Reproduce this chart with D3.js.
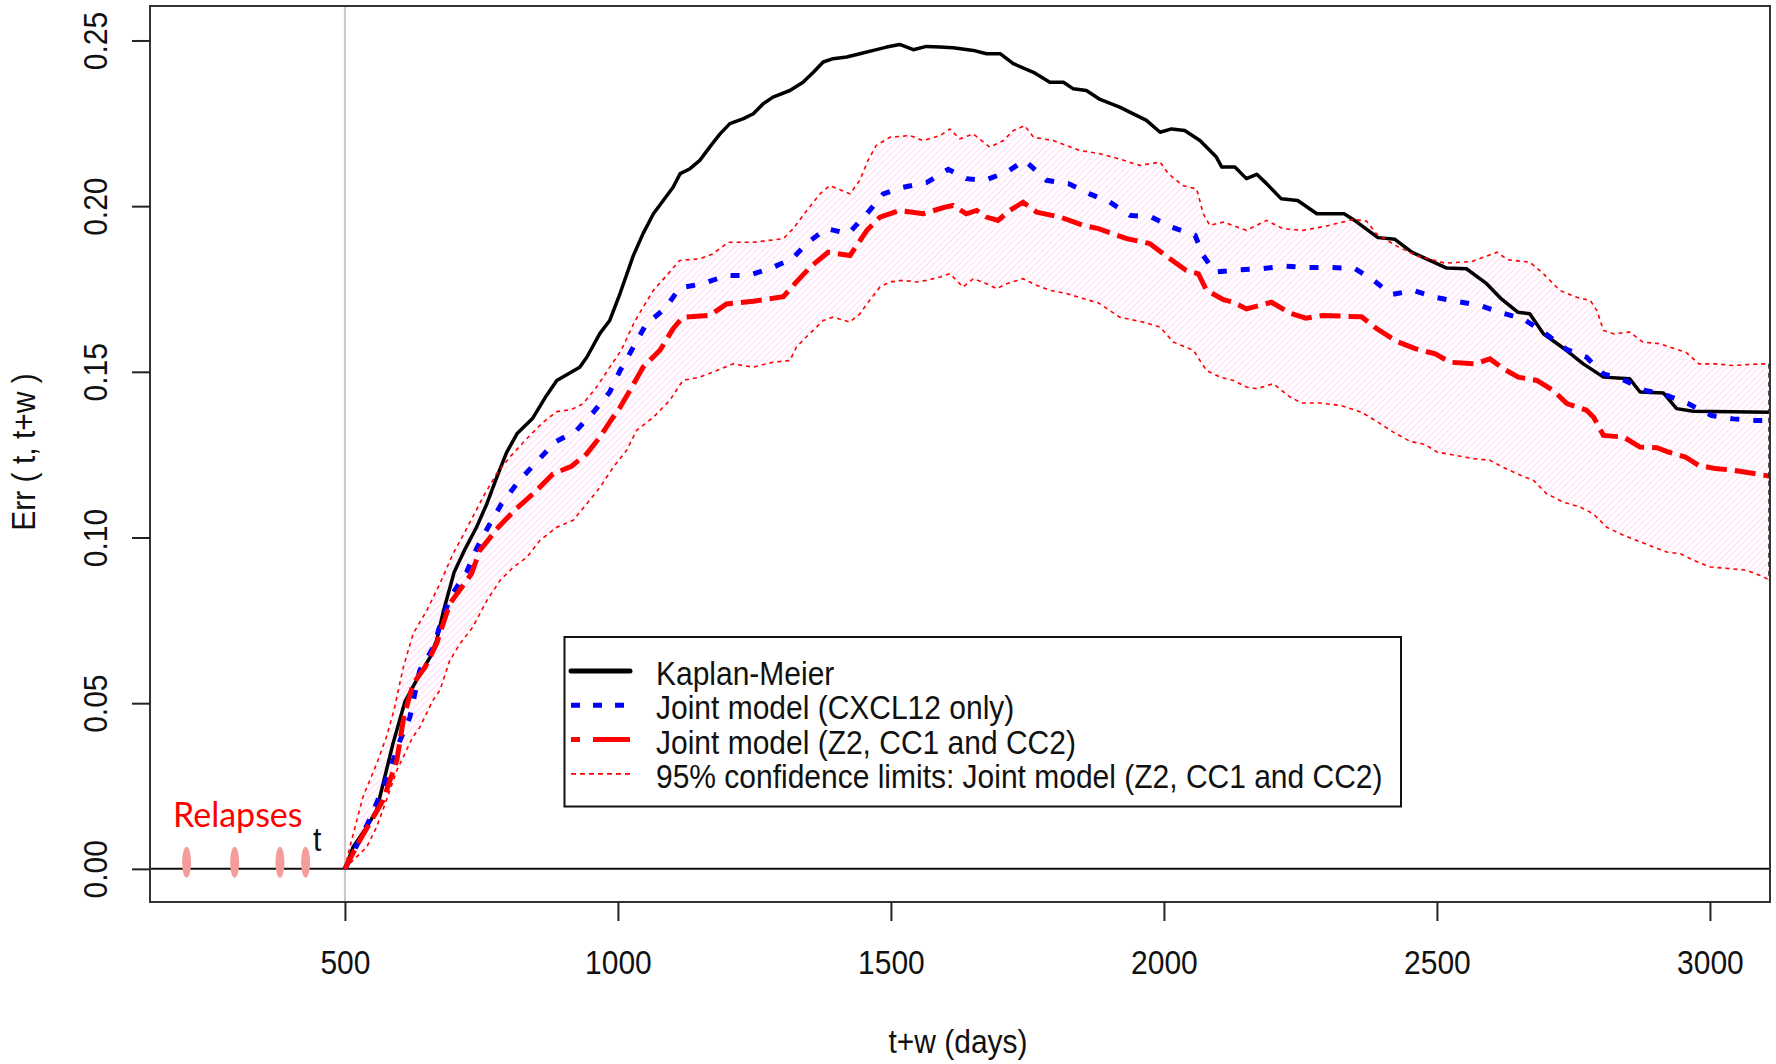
<!DOCTYPE html>
<html>
<head>
<meta charset="utf-8">
<title>Err ( t, t+w )</title>
<script src="https://cdn.jsdelivr.net/npm/d3@7"></script>
<style>
  body { margin: 0; background: #fff; }
  svg text { font-family: "Liberation Sans", Arial, sans-serif; fill: #111; }
</style>
</head>
<body>
<svg id="chart" width="1776" height="1064"></svg>
<script>
// values, [t+w (days), Err]
var kaplanMeier = [[500,0],[515,0.0066],[540,0.0126],[558,0.0177],[588,0.0378],[610,0.0505],[631,0.0569],
  [656,0.0639],[668,0.0690],[680,0.0775],[700,0.0895],[720,0.0965],[741,0.1031],[760,0.1102],[780,0.1190],
  [796,0.1256],[815,0.1313],[844,0.1360],[869,0.1428],[888,0.1474],[930,0.1514],[943,0.1544],[967,0.1616],
  [985,0.1655],[1004,0.1737],[1028,0.1850],[1046,0.1917],[1065,0.1977],[1083,0.2017],[1101,0.2057],
  [1114,0.2098],[1132,0.2113],[1150,0.2138],[1168,0.2178],[1187,0.2218],[1205,0.2249],[1230,0.2264],
  [1248,0.2279],[1266,0.2309],[1284,0.2329],[1315,0.2349],[1339,0.2374],[1358,0.2404],[1376,0.2435],
  [1394,0.2445],[1419,0.2450],[1443,0.2460],[1468,0.2470],[1492,0.2480],[1516,0.2488],[1541,0.2472],
  [1565,0.2482],[1590,0.2480],[1614,0.2478],[1651,0.2470],[1675,0.2460],[1700,0.2460],[1724,0.2430],
  [1761,0.2404],[1791,0.2374],[1816,0.2374],[1834,0.2354],[1858,0.2349],[1883,0.2322],[1919,0.2299],
  [1968,0.2259],[1993,0.2223],[2014,0.2233],[2038,0.2228],[2066,0.2198],[2096,0.2148],[2106,0.2118],
  [2130,0.2118],[2151,0.2083],[2170,0.2096],[2188,0.2068],[2215,0.2022],[2245,0.2017],[2280,0.1977],
  [2330,0.1977],[2351,0.1955],[2392,0.1905],[2423,0.1900],[2454,0.1861],[2518,0.1813],[2554,0.1811],
  [2591,0.1766],[2618,0.1720],[2648,0.1680],[2670,0.1675],[2695,0.1615],[2737,0.1565],[2768,0.1524],
  [2805,0.1484],[2853,0.1479],[2872,0.1439],[2915,0.1436],[2939,0.1389],[2969,0.1381],[3110,0.1378]];

var jointCxcl12 = [[500,0],[546,0.0151],[564,0.0222],[582,0.0297],[601,0.0388],[619,0.0458],[637,0.0599],
  [662,0.0669],[677,0.0750],[695,0.0825],[723,0.0896],[741,0.0966],[762,0.1031],[787,0.1102],[817,0.1167],
  [851,0.1228],[885,0.1288],[924,0.1323],[955,0.1378],[985,0.1439],[1004,0.1504],[1025,0.1565],
  [1052,0.1645],[1086,0.1690],[1113,0.1753],[1156,0.1766],[1199,0.1791],[1239,0.1791],[1278,0.1811],
  [1319,0.1841],[1348,0.1891],[1382,0.1932],[1422,0.1917],[1456,0.1977],[1486,0.2037],[1522,0.2057],
  [1565,0.2071],[1605,0.2111],[1638,0.2083],[1672,0.2078],[1712,0.2103],[1745,0.2138],[1785,0.2078],
  [1825,0.2068],[1864,0.2037],[1901,0.2012],[1938,0.1972],[1977,0.1967],[2014,0.1937],[2057,0.1912],
  [2072,0.1851],[2093,0.1801],[2136,0.1808],[2179,0.1811],[2222,0.1819],[2264,0.1815],[2304,0.1815],
  [2349,0.1812],[2384,0.1776],[2417,0.1733],[2457,0.1746],[2496,0.1725],[2538,0.1712],[2580,0.1700],
  [2618,0.1678],[2658,0.1660],[2695,0.1620],[2737,0.1568],[2774,0.1544],[2805,0.1494],[2844,0.1474],
  [2881,0.1444],[2921,0.1429],[2960,0.1404],[3003,0.1368],[3043,0.1358],[3083,0.1353],[3110,0.1353]];

var jointZ2 = [[500,0],[503,0.001],[527,0.0086],[570,0.0207],[595,0.0327],[608,0.0460],[625,0.0559],
  [647,0.0609],[668,0.0680],[692,0.0800],[714,0.0850],[732,0.0891],[747,0.0961],[781,0.1031],[814,0.1087],
  [848,0.1137],[881,0.1192],[915,0.1215],[943,0.1253],[967,0.1303],[985,0.1348],[1004,0.1393],
  [1022,0.1444],[1046,0.1514],[1077,0.1565],[1101,0.1630],[1119,0.1665],[1168,0.1670],[1199,0.1705],
  [1248,0.1713],[1303,0.1727],[1324,0.1766],[1352,0.1816],[1385,0.1861],[1425,0.1851],[1456,0.1927],
  [1480,0.1967],[1516,0.1987],[1559,0.1977],[1599,0.1997],[1614,0.2002],[1638,0.1977],[1657,0.1987],
  [1675,0.1967],[1696,0.1957],[1718,0.1987],[1742,0.2012],[1767,0.1982],[1810,0.1967],[1852,0.1942],
  [1880,0.1932],[1932,0.1902],[1974,0.1887],[2011,0.1841],[2041,0.1806],[2063,0.1796],[2078,0.1746],
  [2109,0.1718],[2127,0.1710],[2151,0.1690],[2197,0.1710],[2231,0.1677],[2260,0.1662],[2290,0.1670],
  [2362,0.1666],[2390,0.1630],[2426,0.1592],[2460,0.1570],[2497,0.1554],[2524,0.1529],[2570,0.1524],
  [2597,0.1539],[2622,0.1509],[2649,0.1484],[2683,0.1474],[2713,0.1444],[2738,0.1404],[2774,0.1384],
  [2787,0.1363],[2805,0.1308],[2842,0.1303],[2872,0.1273],[2903,0.1271],[2924,0.1258],[2955,0.1243],
  [2979,0.1218],[3010,0.1208],[3043,0.1203],[3110,0.1185]];

var ciUpper = [[500,0],[509,0.0066],[533,0.0217],[558,0.0317],[576,0.0398],[590,0.0480],[607,0.0609],
  [625,0.0710],[650,0.0780],[674,0.0861],[698,0.0951],[723,0.1027],[753,0.1122],[778,0.1193],[802,0.1243],
  [833,0.1298],[863,0.1348],[888,0.1380],[915,0.1386],[936,0.1404],[961,0.1454],[985,0.1514],[1006,0.1565],
  [1030,0.1650],[1046,0.1695],[1065,0.1746],[1092,0.1796],[1113,0.1836],[1150,0.1841],[1174,0.1856],
  [1202,0.1891],[1248,0.1891],[1303,0.1902],[1321,0.1932],[1346,0.1987],[1370,0.2037],[1388,0.2062],
  [1425,0.2037],[1443,0.2078],[1458,0.2138],[1473,0.2183],[1498,0.2208],[1535,0.2213],[1559,0.2198],
  [1590,0.2213],[1608,0.2233],[1626,0.2203],[1651,0.2218],[1681,0.2178],[1706,0.2198],[1724,0.2228],
  [1745,0.2243],[1761,0.2208],[1797,0.2198],[1846,0.2168],[1883,0.2158],[1907,0.2148],[1956,0.2123],
  [1993,0.2133],[2008,0.2098],[2035,0.2062],[2060,0.2052],[2072,0.1977],[2084,0.1942],[2109,0.1952],
  [2151,0.1927],[2188,0.1957],[2218,0.1932],[2255,0.1927],[2298,0.1940],[2347,0.1960],[2371,0.1955],
  [2390,0.1915],[2426,0.1880],[2463,0.1850],[2515,0.1828],[2564,0.1833],[2610,0.1861],[2630,0.1838],
  [2670,0.1831],[2695,0.1796],[2725,0.1746],[2756,0.1725],[2781,0.1715],[2793,0.1685],[2805,0.1625],
  [2823,0.1615],[2853,0.1620],[2877,0.1590],[2907,0.1585],[2956,0.1559],[2980,0.1524],[3011,0.1524],
  [3041,0.1519],[3093,0.1524],[3110,0.1524]];

var ciLower = [[500,0],[509,0.0016],[540,0.0066],[558,0.0126],[576,0.0207],[595,0.0297],[624,0.0397],
  [637,0.0427],[661,0.0508],[674,0.0539],[692,0.0629],[711,0.0680],[734,0.0729],[760,0.0810],[784,0.0870],
  [808,0.0910],[833,0.0940],[857,0.0991],[888,0.1031],[918,0.1052],[943,0.1102],[967,0.1151],[991,0.1211],
  [1016,0.1263],[1034,0.1323],[1065,0.1363],[1095,0.1414],[1119,0.1474],[1150,0.1484],[1181,0.1504],
  [1211,0.1524],[1248,0.1514],[1284,0.1529],[1315,0.1534],[1327,0.1575],[1345,0.1605],[1376,0.1655],
  [1394,0.1665],[1425,0.1650],[1443,0.1675],[1456,0.1705],[1480,0.1756],[1498,0.1771],[1522,0.1776],
  [1547,0.1771],[1565,0.1776],[1590,0.1786],[1608,0.1796],[1632,0.1756],[1651,0.1781],[1675,0.1766],
  [1694,0.1751],[1712,0.1766],[1742,0.1781],[1767,0.1761],[1791,0.1746],[1822,0.1736],[1852,0.1721],
  [1880,0.1708],[1919,0.1665],[1962,0.1650],[1993,0.1635],[2017,0.1590],[2054,0.1565],[2066,0.1534],
  [2078,0.1504],[2103,0.1484],[2127,0.1474],[2151,0.1454],[2170,0.1449],[2200,0.1464],[2231,0.1424],
  [2252,0.1406],[2286,0.1406],[2325,0.1398],[2362,0.1378],[2390,0.1350],[2420,0.1318],[2451,0.1290],
  [2478,0.1281],[2500,0.1258],[2527,0.1250],[2567,0.1238],[2597,0.1233],[2621,0.1212],[2646,0.1193],
  [2677,0.1172],[2701,0.1132],[2731,0.1107],[2762,0.1092],[2786,0.1072],[2811,0.1031],[2836,0.1011],
  [2866,0.0991],[2897,0.0971],[2921,0.0956],[2946,0.0951],[2970,0.0931],[3001,0.0911],[3037,0.0906],
  [3067,0.0901],[3091,0.0886],[3110,0.0871]];

var relapses = [210, 298, 381, 428];
var landmark = 500;
var xTicks = [500, 1000, 1500, 2000, 2500, 3000];
var yTicks = [0, 0.05, 0.10, 0.15, 0.20, 0.25];
var legendLabels = ["Kaplan-Meier", "Joint model (CXCL12 only)", "Joint model (Z2, CC1 and CC2)",
  "95% confidence limits: Joint model (Z2, CC1 and CC2)"];

var svg = d3.select("#chart");
var plot = {left: 150, right: 1770, top: 6, bottom: 902};

var x = d3.scaleLinear().domain([143, 3110]).range([plot.left, plot.right]);
var y = d3.scaleLinear().domain([-0.0100, 0.2604]).range([plot.bottom, plot.top]);

// the text in the picture is a little taller than it is wide
var stretch = "scale(1,1.1)";

var defs = svg.append("defs");
defs.append("clipPath").attr("id", "clip").append("rect")
    .attr("x", plot.left).attr("y", plot.top)
    .attr("width", plot.right - plot.left).attr("height", plot.bottom - plot.top);

var hatch = defs.append("pattern").attr("id", "hatch")
    .attr("patternUnits", "userSpaceOnUse").attr("width", 4.5).attr("height", 4.5)
    .attr("patternTransform", "rotate(-45)");
hatch.append("line").attr("x1", 0).attr("y1", 1).attr("x2", 4.5).attr("y2", 1)
    .attr("stroke", "#ffd2f4").attr("stroke-width", 0.9);

var line = d3.line().x(function(d) { return x(d[0]); }).y(function(d) { return y(d[1]); });

var g = svg.append("g").attr("clip-path", "url(#clip)");

// confidence band
g.append("path")
    .datum(ciUpper.concat(ciLower.slice().reverse()))
    .attr("d", line)
    .attr("fill", "url(#hatch)")
    .attr("stroke", "none");

g.append("line")
    .attr("x1", x(landmark)).attr("x2", x(landmark))
    .attr("y1", plot.top).attr("y2", plot.bottom)
    .attr("stroke", "#c8c8c8").attr("stroke-width", 2);

g.append("line")
    .attr("x1", plot.left).attr("x2", plot.right)
    .attr("y1", y(0)).attr("y2", y(0))
    .attr("stroke", "#111").attr("stroke-width", 2);

g.append("path").datum(kaplanMeier).attr("d", line)
    .attr("fill", "none").attr("stroke", "#000").attr("stroke-width", 3.5)
    .attr("stroke-linejoin", "round");

g.append("path").datum(jointCxcl12).attr("d", line)
    .attr("fill", "none").attr("stroke", "#0000ff").attr("stroke-width", 5)
    .attr("stroke-dasharray", "9,14");

g.append("path").datum(jointZ2).attr("d", line)
    .attr("fill", "none").attr("stroke", "#ff0000").attr("stroke-width", 5)
    .attr("stroke-dasharray", "21,8");

[ciUpper, ciLower].forEach(function(ci) {
  g.append("path").datum(ci).attr("d", line)
      .attr("fill", "none").attr("stroke", "#ff0000").attr("stroke-width", 1.6)
      .attr("stroke-dasharray", "4,4");
});

// right edge of the band
var lastU = ciUpper[ciUpper.length - 1], lastL = ciLower[ciLower.length - 1];
g.append("line")
    .attr("x1", x(lastU[0]) - 1).attr("x2", x(lastL[0]) - 1)
    .attr("y1", y(lastU[1])).attr("y2", y(lastL[1]))
    .attr("stroke", "#222").attr("stroke-width", 1.5).attr("stroke-dasharray", "5,4");

// relapses before the landmark
g.selectAll(".relapse").data(relapses).enter().append("ellipse")
    .attr("class", "relapse")
    .attr("cx", function(d) { return x(d); })
    .attr("cy", y(0.002))
    .attr("rx", 4.5).attr("ry", 15.5)
    .attr("fill", "#f59c9c");

svg.append("text")
    .attr("x", 173).attr("y", 827)
    .style("font-family", "Lato, 'Open Sans', sans-serif")
    .style("fill", "#ff0000")
    .attr("font-size", 34)
    .text("Relapses");

svg.append("text")
    .attr("transform", "translate(" + (x(landmark) - 32) + "," + (y(0) - 18) + ") " + stretch)
    .attr("font-size", 30)
    .text("t");

// box
svg.append("rect")
    .attr("x", plot.left).attr("y", plot.top)
    .attr("width", plot.right - plot.left).attr("height", plot.bottom - plot.top)
    .attr("fill", "none").attr("stroke", "#333").attr("stroke-width", 2);

// axes
var xAxis = svg.append("g")
    .attr("transform", "translate(0," + plot.bottom + ")")
    .call(d3.axisBottom(x).tickValues(xTicks).tickSize(19).tickFormat(d3.format("d")));
xAxis.select(".domain").remove();
xAxis.attr("font-size", 30).attr("font-family", null);
xAxis.selectAll(".tick line").attr("stroke", "#222").attr("stroke-width", 2);
xAxis.selectAll(".tick text")
    .attr("dy", null).attr("y", 72 / 1.1)
    .attr("transform", stretch);

var yAxis = svg.append("g")
    .attr("transform", "translate(" + plot.left + ",0)")
    .call(d3.axisLeft(y).tickValues(yTicks).tickSize(18).tickFormat(d3.format(".2f")));
yAxis.select(".domain").remove();
yAxis.attr("font-size", 30).attr("font-family", null);
yAxis.selectAll(".tick line").attr("stroke", "#222").attr("stroke-width", 2);
yAxis.selectAll(".tick text")
    .attr("x", 0).attr("y", 0).attr("dy", null)
    .attr("text-anchor", "middle")
    .attr("transform", "translate(-43,0) rotate(-90) " + stretch);

svg.append("text")
    .attr("transform", "translate(958,1053) " + stretch)
    .attr("text-anchor", "middle").attr("font-size", 30)
    .text("t+w (days)");

svg.append("text")
    .attr("transform", "translate(35,452) rotate(-90) " + stretch)
    .attr("text-anchor", "middle").attr("font-size", 30)
    .text("Err ( t, t+w )");

// legend
var legendStyles = [
  {color: "#000", width: 5, dash: null},
  {color: "#0000ff", width: 5, dash: "9,13"},
  {color: "#ff0000", width: 5, dash: "9,13,40"},
  {color: "#ff0000", width: 1.6, dash: "5,4"}
];
var legend = svg.append("g");
legend.append("rect")
    .attr("x", 564.5).attr("y", 637).attr("width", 836.5).attr("height", 169.5)
    .attr("fill", "#fff").attr("stroke", "#111").attr("stroke-width", 2);

var rows = legend.selectAll(".row").data(legendLabels).enter().append("g")
    .attr("class", "row")
    .attr("transform", function(d, i) { return "translate(0," + (671 + i * 34.3) + ")"; });
rows.append("line")
    .attr("x1", 571).attr("x2", 630).attr("y1", 0).attr("y2", 0)
    .attr("stroke", function(d, i) { return legendStyles[i].color; })
    .attr("stroke-width", function(d, i) { return legendStyles[i].width; })
    .attr("stroke-dasharray", function(d, i) { return legendStyles[i].dash; })
    .attr("stroke-linecap", function(d, i) { return i === 0 ? "round" : "butt"; });
rows.append("text")
    .attr("transform", "translate(656,14) " + stretch)
    .attr("font-size", 30)
    .text(function(d) { return d; });
</script>
</body>
</html>
